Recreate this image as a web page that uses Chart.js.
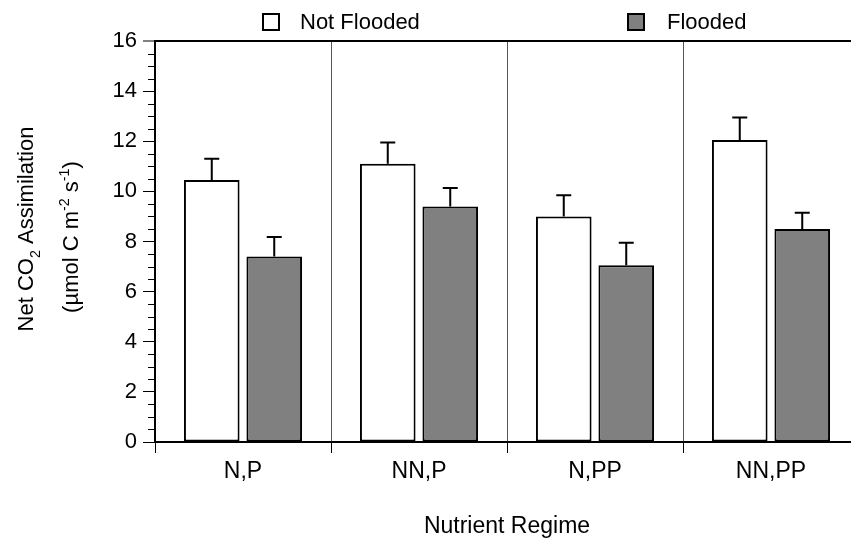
<!doctype html>
<html lang="en">
  <head>
    <meta charset="utf-8">
    <title>Net CO2 Assimilation by Nutrient Regime</title>
    <style>
      html, body { margin: 0; padding: 0; overflow: hidden; background: #fff; }
      .chartBox { width: 870px; height: 540px; }
    </style>
  </head>
  <body>
    <div class="chartBox">
      <canvas id="myChart"></canvas>
    </div>
    <script src="https://cdn.jsdelivr.net/npm/chart.js"></script>
    <script>
      // data
      const regimes = ['N,P', 'NN,P', 'N,PP', 'NN,PP'];
      const notFlooded = [10.45, 11.1, 9.0, 12.05];
      const notFloodedErr = [0.85, 0.85, 0.85, 0.9];
      const flooded = [7.4, 9.4, 7.05, 8.5];
      const floodedErr = [0.78, 0.73, 0.9, 0.65];
      const yTicks = [0, 2, 4, 6, 8, 10, 12, 14, 16];

      const FONT = "'Liberation Sans', Arial, sans-serif";

      // upper error bars
      const errorBars = {
        id: 'errorBars',
        afterDatasetsDraw(chart) {
          const ctx = chart.ctx;
          const y = chart.scales.y;
          ctx.save();
          ctx.strokeStyle = '#000';
          ctx.lineWidth = 2;
          chart.data.datasets.forEach((ds, i) => {
            const meta = chart.getDatasetMeta(i);
            meta.data.forEach((bar, j) => {
              const top = y.getPixelForValue(ds.data[j] + ds.errors[j]);
              ctx.beginPath();
              ctx.moveTo(bar.x, bar.y);
              ctx.lineTo(bar.x, top);
              ctx.moveTo(bar.x - 7.5, top);
              ctx.lineTo(bar.x + 7.5, top);
              ctx.stroke();
            });
          });
          ctx.restore();
        }
      };

      // minor ticks, y title with sub/superscripts, legend
      function drawRich(ctx, parts, size) {
        let total = 0;
        parts.forEach(p => {
          ctx.font = (p.s ? size * 0.65 : size) + 'px ' + FONT;
          p.w = ctx.measureText(p.t).width;
          total += p.w;
        });
        let x = -total / 2;
        parts.forEach(p => {
          ctx.font = (p.s ? size * 0.65 : size) + 'px ' + FONT;
          const dy = p.s === 'sup' ? -size * 0.42 : p.s === 'sub' ? size * 0.3 : 0;
          ctx.fillText(p.t, x, dy);
          x += p.w;
        });
      }

      const extras = {
        id: 'extras',
        afterDraw(chart) {
          const ctx = chart.ctx;
          const y = chart.scales.y;
          const axisX = chart.chartArea.left;
          ctx.save();
          ctx.strokeStyle = '#000';
          ctx.lineWidth = 1;
          for (let v = 0.5; v < 16; v += 0.5) {
            if (v % 2 === 0) continue;
            const py = Math.round(y.getPixelForValue(v)) + 0.5;
            ctx.beginPath();
            ctx.moveTo(axisX - 7, py);
            ctx.lineTo(axisX, py);
            ctx.stroke();
          }

          ctx.fillStyle = '#000';
          ctx.textBaseline = 'alphabetic';
          ctx.textAlign = 'left';
          ctx.save();
          ctx.translate(33, 229);
          ctx.rotate(-Math.PI / 2);
          drawRich(ctx, [{t: 'Net CO'}, {t: '2', s: 'sub'}, {t: ' Assimilation'}], 22);
          ctx.restore();
          ctx.save();
          ctx.translate(78, 237);
          ctx.rotate(-Math.PI / 2);
          drawRich(ctx, [{t: '(\u00b5mol C m'}, {t: '-2', s: 'sup'}, {t: ' s'}, {t: '-1', s: 'sup'}, {t: ')'}], 22);
          ctx.restore();

          // legend
          const items = [[262, 300], [627, 667]];
          ctx.font = '22px ' + FONT;
          chart.data.datasets.forEach((ds, i) => {
            const [bx, tx] = items[i];
            ctx.fillStyle = ds.backgroundColor;
            ctx.fillRect(bx, 13, 18, 18);
            ctx.lineWidth = 2;
            ctx.strokeRect(bx + 1, 14, 16, 16);
            ctx.fillStyle = '#000';
            ctx.fillText(ds.label, tx, 29);
          });
          ctx.restore();
        }
      };

      const data = {
        labels: regimes,
        datasets: [
          {
            label: 'Not Flooded',
            data: notFlooded,
            errors: notFloodedErr,
            backgroundColor: '#ffffff',
            borderColor: '#000',
            borderWidth: 2,
            borderSkipped: false
          },
          {
            label: 'Flooded',
            data: flooded,
            errors: floodedErr,
            backgroundColor: '#808080',
            borderColor: '#000',
            borderWidth: 2,
            borderSkipped: false
          }
        ]
      };

      // config
      const config = {
        type: 'bar',
        data,
        options: {
          responsive: true,
          maintainAspectRatio: false,
          devicePixelRatio: 1,
          animation: false,
          categoryPercentage: 0.71,
          barPercentage: 0.89,
          layout: { padding: { left: 0, right: 11, top: 41, bottom: 0 } },
          scales: {
            x: {
              offset: true,
              grid: {
                offset: true,
                color: '#555',
                lineWidth: 1,
                tickColor: '#000',
                tickLength: 11,
                drawTicks: true
              },
              border: { color: '#000', width: 2 },
              ticks: { color: '#000', font: { family: FONT, size: 23 }, padding: 5 },
              title: {
                display: true,
                text: 'Nutrient Regime',
                color: '#000',
                font: { family: FONT, size: 23 },
                padding: { top: 0, bottom: 0 }
              },
              afterFit(scale) { scale.height = 98; }
            },
            y: {
              min: 0,
              max: 16,
              afterBuildTicks(scale) { scale.ticks = yTicks.map(v => ({ value: v })); },
              grid: {
                color: ctx => ctx.tick && ctx.tick.value === 16 ? '#000' : 'rgba(0,0,0,0)',
                lineWidth: ctx => ctx.tick && ctx.tick.value === 16 ? 2 : 1,
                tickColor: '#000',
                tickLength: 12,
                tickWidth: 1
              },
              border: { color: '#000', width: 2 },
              ticks: { color: '#000', font: { family: FONT, size: 22 }, padding: 6 },
              afterFit(scale) { scale.width = 155; }
            }
          },
          plugins: {
            legend: { display: false },
            tooltip: { enabled: false }
          }
        },
        plugins: [errorBars, extras]
      };

      // render init block
      const myChart = new Chart(document.getElementById('myChart'), config);
    </script>
  </body>
</html>
